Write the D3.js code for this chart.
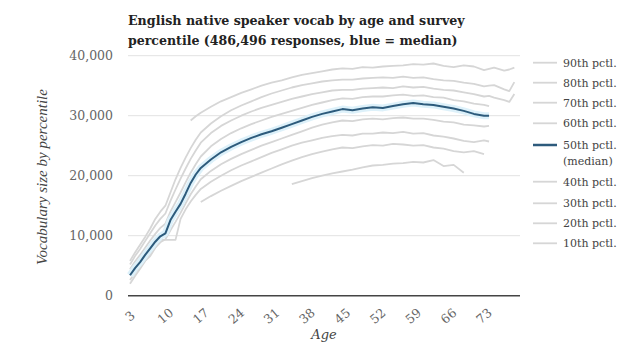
<!DOCTYPE html>
<html>
<head>
<meta charset="utf-8">
<script src="https://cdn.jsdelivr.net/npm/d3@7"></script>
<style>
  body { margin: 0; background: #fff; }
  svg { display: block; }
</style>
</head>
<body>
<div id="container"></div>
<script>
/* DATA */
const ages = [3, 4, 5, 6, 7, 8, 9, 10, 11, 12, 13, 14, 15, 16, 17,
  19, 21, 23, 25, 27, 29, 31, 33, 35, 37, 39, 41, 43, 45, 47, 49, 51, 53, 55, 57, 59, 61, 63, 65, 67, 69, 71, 73,
  74, 75, 77, 78, 79];

const p90 = [null, null, null, null, null, null, null, null, null, null, null, null, 29200, 29900, 30500,
  31500, 32400, 33100, 33800, 34400, 35000, 35500, 35900, 36400, 36800, 37100, 37400, 37700, 37900, 37800, 38100, 38000, 38200, 38300, 38400, 38600, 38500, 38700, 38300, 38100, 38400, 38200, 37600,
  37800, 38000, 37500, 37700, 38000];
const p80 = [5800, 7200, 8500, 9800, 11200, 12800, 14000, 15000, 17200, 19400, 21300, 23000, 24600, 26000, 27200,
  28700, 29900, 30900, 31700, 32400, 33100, 33700, 34200, 34700, 35100, 35400, 35700, 35900, 36000, 36000, 36200, 36300, 36400, 36300, 36500, 36300, 36400, 36100, 35900, 35800, 35500, 35300, 34900,
  35000, 35100, 34400, 34100, 35600];
const p70 = [5200, 6600, 7800, 9100, 10400, 11700, 12800, 13700, 15800, 17700, 19500, 21200, 22800, 24200, 25500,
  27100, 28300, 29200, 30000, 30700, 31300, 31800, 32300, 32800, 33200, 33600, 33900, 34200, 34300, 34300, 34500, 34600, 34700, 34600, 34900, 34700, 34800, 34500, 34300, 34200, 33900, 33600, 33200,
  33300, 33000, 32600, 32300, 33600];
const p60 = [4400, 5700, 6800, 8000, 9200, 10300, 11300, 12000, 14000, 15600, 17200, 18900, 20500, 21900, 23200,
  24900, 26100, 27100, 27900, 28600, 29200, 29800, 30300, 30800, 31300, 31800, 32200, 32600, 32900, 32800, 33100, 33200, 33200, 33400, 33500, 33300, 33400, 33100, 33000, 32600, 32400, 32000, 31800,
  31600, null, null, null, null];
const p50 = [3400, 4600, 5600, 6800, 7900, 9000, 9900, 10400, 12600, 14000, 15300, 17000, 18800, 20200, 21300,
  22700, 23900, 24800, 25600, 26300, 26900, 27400, 28000, 28600, 29200, 29800, 30300, 30700, 31100, 30900, 31200, 31400, 31300, 31600, 31900, 32100, 31900, 31800, 31500, 31200, 30800, 30300, 30000,
  30000, null, null, null, null];
const p40 = [2600, 3800, 4800, 5900, 7000, 8000, 8900, 9400, 10900, 12300, 13800, 15400, 16900, 18200, 19400,
  20800, 21900, 22800, 23600, 24300, 25000, 25600, 26200, 26800, 27400, 28000, 28500, 28900, 29200, 29100, 29400, 29500, 29400, 29600, 29700, 29500, 29500, 29300, 29000, 28900, 28500, 28400, 28200,
  28300, null, null, null, null];
const p30 = [2000, 3300, 4500, 5800, 6600, 8000, 9300, 9300, 9300, 9300, 12800, 14400, 15700, 16800, 17800,
  19000, 20000, 20900, 21700, 22400, 23100, 23800, 24400, 25000, 25500, 25900, 26300, 26600, 26800, 26700, 27000, 27000, 27200, 27100, 27300, 27000, 27100, 26700, 26500, 26200, 25800, 25600, 25900,
  25700, null, null, null, null];
const p20 = [null, null, null, null, null, null, null, null, null, null, null, null, null, null, 15600,
  16600, 17500, 18300, 19100, 19800, 20500, 21200, 21900, 22500, 23100, 23600, 24000, 24400, 24700, 24600, 24900, 25100, 25000, 25300, 25200, 25000, 25100, 24700, 24500, 24100, 23900, 24100, 23600,
  null, null, null, null, null];
const p10 = [null, null, null, null, null, null, null, null, null, null, null, null, null, null, null,
  null, null, null, null, null, null, null, null, 18600, 19100, 19600, 20000, 20400, 20700, 21000, 21400, 21700, 21800, 22000, 22100, 22300, 22200, 22600, 21600, 21800, 20500, null, null,
  null, null, null, null, null];

const seriesNames = ["90th pctl.", "80th pctl.", "70th pctl.", "60th pctl.", "50th pctl.", "40th pctl.", "30th pctl.", "20th pctl.", "10th pctl."];
const seriesValues = [p90, p80, p70, p60, p50, p40, p30, p20, p10];
const yTicks = [0, 10000, 20000, 30000, 40000];
const xTicks = [3, 10, 17, 24, 31, 38, 45, 52, 59, 66, 73];

/* CONSTANTS */
const width = 640;
const height = 351;
const serif = "'DejaVu Serif', Georgia, serif";

const svg = d3.select('#container')
  .append('svg')
  .attr('width', width)
  .attr('height', height)
  .style('background-color', '#fff');

const xScale = d3.scaleLinear()
  .domain([3, 80])
  .range([130, 519.4]);

const yScale = d3.scaleLinear()
  .domain([0, 40000])
  .range([295.7, 55.7]);

// fit text to a width
function fit(sel, target) {
  const w = sel.node().getComputedTextLength();
  const fs = parseFloat(sel.attr('font-size'));
  sel.attr('font-size', fs * target / w);
}

// Title
const title = svg.append('g')
  .attr('font-family', serif)
  .attr('font-weight', 'bold')
  .attr('fill', '#222');
fit(title.append('text').attr('x', 128).attr('y', 25).attr('font-size', 14)
  .text('English native speaker vocab by age and survey'), 337);
fit(title.append('text').attr('x', 128).attr('y', 45).attr('font-size', 14)
  .text('percentile (486,496 responses, blue = median)'), 330);

// Gridlines
svg.append('g')
  .selectAll('line')
  .data(yTicks.filter(d => d > 0))
  .join('line')
  .attr('x1', 128)
  .attr('x2', 520)
  .attr('y1', d => yScale(d))
  .attr('y2', d => yScale(d))
  .attr('stroke', '#e2e2e2')
  .attr('stroke-width', 1);

// Y axis labels
svg.append('g')
  .selectAll('text')
  .data(yTicks)
  .join('text')
  .attr('x', 113)
  .attr('y', d => yScale(d))
  .attr('dy', '0.35em')
  .attr('text-anchor', 'end')
  .attr('font-family', serif)
  .attr('font-size', 12.5)
  .attr('fill', '#666')
  .text(d => d3.format(',')(d));

const line = d3.line()
  .defined(d => d.v != null)
  .x(d => xScale(d.age))
  .y(d => yScale(d.v));

const series = seriesNames.map((name, i) => ({
  name: name,
  median: i === 4,
  values: ages.map((a, j) => ({ age: a, v: seriesValues[i][j] }))
}));

// Gray percentile lines
svg.append('g')
  .selectAll('path')
  .data(series.filter(d => !d.median))
  .join('path')
  .attr('d', d => line(d.values))
  .attr('fill', 'none')
  .attr('stroke', '#d6d6d6')
  .attr('stroke-width', 1.8)
  .attr('stroke-linejoin', 'round');

// Median with halo
const med = series.filter(d => d.median);
svg.append('g')
  .selectAll('path')
  .data(med)
  .join('path')
  .attr('d', d => line(d.values))
  .attr('fill', 'none')
  .attr('stroke', '#ddf1fa')
  .attr('stroke-width', 7)
  .attr('stroke-linejoin', 'round');
svg.append('g')
  .selectAll('path')
  .data(med)
  .join('path')
  .attr('d', d => line(d.values))
  .attr('fill', 'none')
  .attr('stroke', '#2d5b7c')
  .attr('stroke-width', 2)
  .attr('stroke-linejoin', 'round');

// X axis line
svg.append('line')
  .attr('x1', 128)
  .attr('x2', 520)
  .attr('y1', yScale(0))
  .attr('y2', yScale(0))
  .attr('stroke', '#444')
  .attr('stroke-width', 1.5);

// X tick labels
svg.append('g')
  .selectAll('text')
  .data(xTicks)
  .join('text')
  .attr('transform', d => `translate(${xScale(d)}, 316) rotate(-40)`)
  .attr('dy', '0.35em')
  .attr('text-anchor', 'middle')
  .attr('font-family', serif)
  .attr('font-size', 12.5)
  .attr('fill', '#666')
  .text(d => d);

// Axis titles
svg.append('text')
  .attr('x', 324)
  .attr('y', 339)
  .attr('text-anchor', 'middle')
  .attr('font-family', serif)
  .attr('font-style', 'italic')
  .attr('font-size', 13)
  .attr('fill', '#444')
  .text('Age');

const yTitle = svg.append('text')
  .attr('transform', 'translate(47, 177) rotate(-90)')
  .attr('text-anchor', 'middle')
  .attr('font-family', "'Liberation Serif', serif")
  .attr('font-style', 'italic')
  .attr('font-size', 14)
  .attr('fill', '#444')
  .text('Vocabulary size by percentile');
fit(yTitle, 176);

// Legend
const legendY = [62.7, 82.7, 102.7, 123.3, 145, 181.7, 203.3, 223.3, 243.3];
const legend = svg.append('g')
  .selectAll('g')
  .data(series)
  .join('g')
  .attr('transform', (d, i) => `translate(0, ${legendY[i]})`);

legend.append('line')
  .attr('x1', 533)
  .attr('x2', 557)
  .attr('stroke', d => d.median ? '#2d5b7c' : '#d6d6d6')
  .attr('stroke-width', d => d.median ? 2.5 : 1.8);

legend.append('text')
  .attr('x', 563)
  .attr('dy', '0.35em')
  .attr('font-family', serif)
  .attr('font-size', 11)
  .attr('fill', '#444')
  .text(d => d.name);

legend.filter(d => d.median)
  .append('text')
  .attr('x', 563)
  .attr('y', 16)
  .attr('dy', '0.35em')
  .attr('font-family', serif)
  .attr('font-size', 11)
  .attr('fill', '#444')
  .text('(median)');
</script>
</body>
</html>
